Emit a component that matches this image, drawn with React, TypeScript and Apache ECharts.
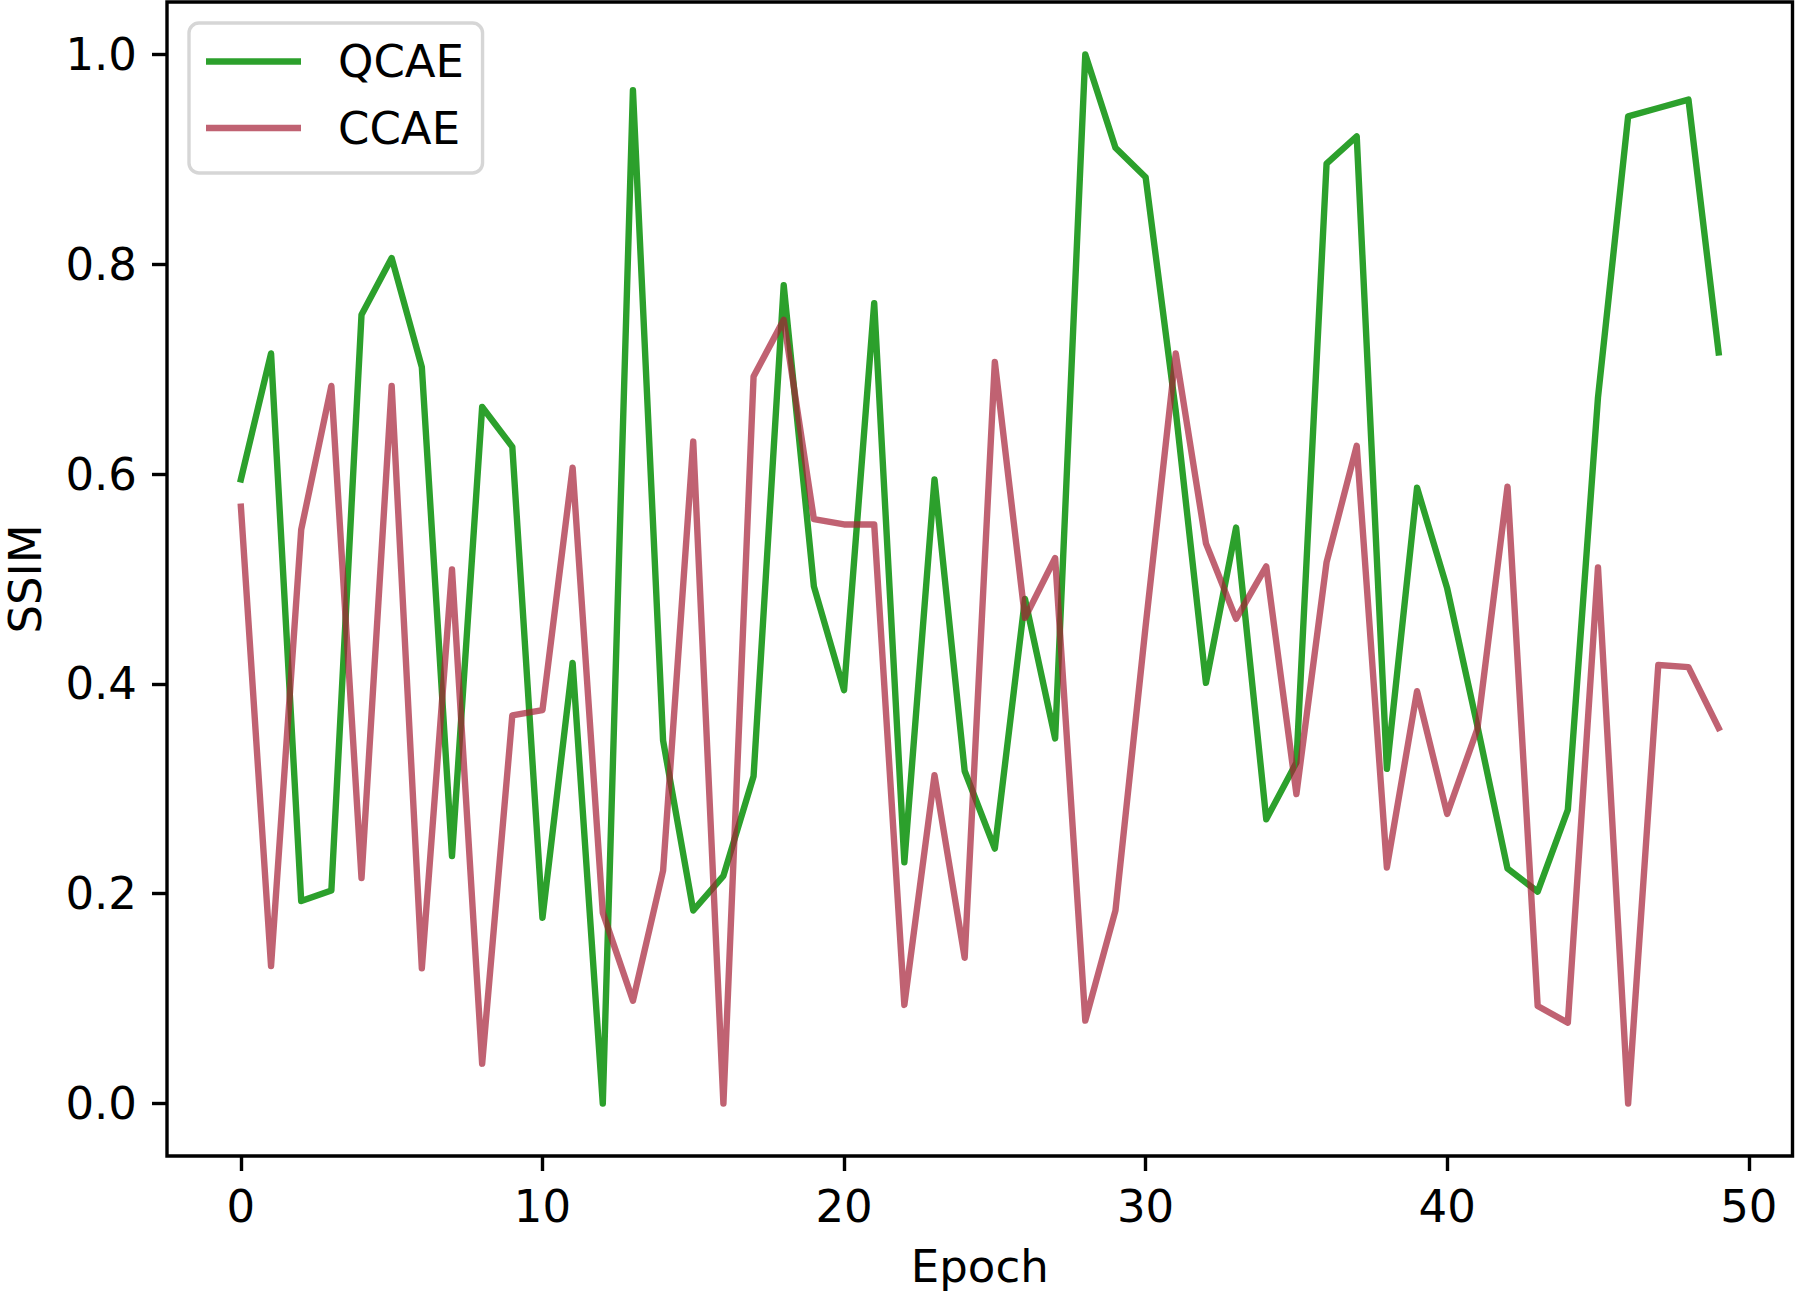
import React, { useEffect, useRef } from "react";
import * as echarts from "echarts";

const epochs = [
  0, 1, 2, 3, 4, 5, 6, 7, 8, 9, 10, 11, 12, 13, 14, 15, 16, 17, 18, 19, 20, 21, 22, 23, 24,
  25, 26, 27, 28, 29, 30, 31, 32, 33, 34, 35, 36, 37, 38, 39, 40, 41, 42, 43, 44, 45, 46, 47, 48, 49,
];

const qcae = [
  0.595, 0.715, 0.193, 0.203, 0.752, 0.806, 0.702, 0.236, 0.664, 0.626,
  0.177, 0.42, 0.0, 0.966, 0.346, 0.184, 0.217, 0.312, 0.78, 0.493,
  0.394, 0.763, 0.23, 0.595, 0.317, 0.243, 0.481, 0.348, 1.0, 0.911,
  0.883, 0.66, 0.401, 0.549, 0.271, 0.325, 0.896, 0.922, 0.319, 0.587,
  0.491, 0.36, 0.224, 0.202, 0.28, 0.673, 0.941, 0.949, 0.957, 0.716,
];

const ccae = [
  0.569, 0.131, 0.547, 0.684, 0.215, 0.684, 0.129, 0.509, 0.038, 0.37,
  0.375, 0.606, 0.182, 0.098, 0.222, 0.631, 0.0, 0.693, 0.747, 0.557,
  0.552, 0.552, 0.094, 0.313, 0.139, 0.707, 0.463, 0.52, 0.079, 0.184,
  0.455, 0.715, 0.534, 0.462, 0.512, 0.295, 0.516, 0.627, 0.225, 0.393,
  0.276, 0.357, 0.588, 0.093, 0.077, 0.511, 0.0, 0.418, 0.416, 0.358,
];

const xTicks = [0, 10, 20, 30, 40, 50];
const yTicks = [0.0, 0.2, 0.4, 0.6, 0.8, 1.0];

const seriesNames = ["QCAE", "CCAE"];
const FONT = "DejaVu Sans";
const FS = 45;
const GREEN = "#2ca02c";
const RED = "rgba(165,32,54,0.7)";

export default function App() {
  const ref = useRef<HTMLDivElement>(null);

  useEffect(() => {
    document.body.style.margin = "0";
    const chart = echarts.init(ref.current as HTMLDivElement, null, { renderer: "svg" });

    const toPairs = (vals: number[]) => epochs.map((e, i) => [e, vals[i]]);

    // matplotlib-style 5% data margins
    const xLo = Math.min(...epochs);
    const xHi = Math.max(...epochs);
    const xPad = (xHi - xLo) * 0.05;
    const allY = [...qcae, ...ccae];
    const yLo = Math.min(...allY);
    const yHi = Math.max(...allY);
    const yPad = (yHi - yLo) * 0.05;

    const option: any = {
      animation: false,
      backgroundColor: "#ffffff",
      textStyle: { fontFamily: FONT },
      grid: {
        left: 167,
        top: 2,
        width: 1625.5,
        height: 1154,
        show: true,
        borderColor: "#000000",
        borderWidth: 3.4,
        backgroundColor: "transparent",
        containLabel: false,
        outerBoundsMode: "none",
      },
      legend: {
        orient: "vertical",
        left: 189,
        top: 23,
        padding: [12.5, 18.5, 19, 17],
        itemGap: 14.5,
        itemWidth: 95,
        itemHeight: 6.4,
        icon: "rect",
        backgroundColor: "rgba(255,255,255,0.8)",
        borderColor: "#d6d6d6",
        borderWidth: 3.4,
        borderRadius: 10,
        textStyle: {
          fontFamily: FONT,
          fontSize: FS,
          color: "#000000",
          lineHeight: 43,
          padding: [9, 0, 0, 32],
        },
        data: [
          { name: seriesNames[0], itemStyle: { color: GREEN } },
          { name: seriesNames[1], itemStyle: { color: RED } },
        ],
      },
      xAxis: {
        type: "value",
        min: xLo - xPad,
        max: xHi + xPad,
        axisLine: { show: false, onZero: false },
        axisTick: {
          show: true,
          length: 15,
          customValues: xTicks,
          lineStyle: { color: "#000", width: 3.4 },
        },
        splitLine: { show: false },
        axisLabel: {
          show: true,
          customValues: xTicks,
          margin: 29,
          fontSize: FS,
          fontFamily: FONT,
          color: "#000",
          lineHeight: 43,
        },
        name: "Epoch",
        nameLocation: "middle",
        nameGap: 89,
        nameTextStyle: { fontSize: FS, fontFamily: FONT, color: "#000", lineHeight: 43 },
      },
      yAxis: {
        type: "value",
        min: yLo - yPad,
        max: yHi + yPad,
        axisLine: { show: false, onZero: false },
        axisTick: {
          show: true,
          length: 15,
          customValues: yTicks,
          lineStyle: { color: "#000", width: 3.4 },
        },
        splitLine: { show: false },
        axisLabel: {
          show: true,
          customValues: yTicks,
          margin: 30,
          fontSize: FS,
          fontFamily: FONT,
          color: "#000",
          formatter: (v: number) => v.toFixed(1),
        },
        name: "SSIM",
        nameLocation: "middle",
        nameRotate: 90,
        nameGap: 120,
        nameTextStyle: { fontSize: FS, fontFamily: FONT, color: "#000", lineHeight: 43 },
      },
      series: [
        {
          name: seriesNames[0],
          type: "line",
          data: toPairs(qcae),
          symbol: "none",
          showSymbol: false,
          clip: false,
          color: GREEN,
          lineStyle: { color: GREEN, width: 6.4, join: "round", cap: "square" },
          emphasis: { disabled: true },
          z: 2,
        },
        {
          name: seriesNames[1],
          type: "line",
          data: toPairs(ccae),
          symbol: "none",
          showSymbol: false,
          clip: false,
          color: RED,
          lineStyle: { color: RED, width: 6.4, join: "round", cap: "square" },
          emphasis: { disabled: true },
          z: 3,
        },
      ],
    };

    chart.setOption(option);
    return () => chart.dispose();
  }, []);

  return <div ref={ref} style={{ width: 1796, height: 1293 }} />;
}
